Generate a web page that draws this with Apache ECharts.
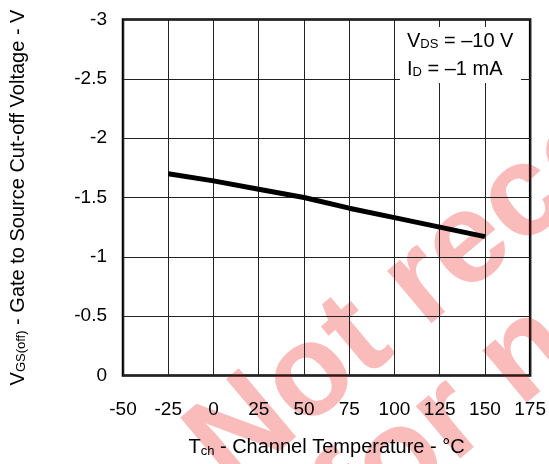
<!DOCTYPE html>
<html>
<head>
<meta charset="utf-8">
<script src="https://cdn.jsdelivr.net/npm/echarts@6/dist/echarts.min.js"></script>
<style>
  html, body { margin: 0; padding: 0; background: #fff; }
  #chart { width: 549px; height: 464px; }
</style>
</head>
<body>
<div id="chart"></div>
<script>
// Channel temperature (°C) and gate-source cut-off voltage (V)
const temperature = [-25, 0, 25, 50, 75, 100, 125, 150];
const vgsOff = [-1.70, -1.64, -1.57, -1.50, -1.41, -1.33, -1.25, -1.17];

// Axis ranges
const xTicks = { min: -50, max: 175, step: 25 };
const yTicks = { min: -3, max: 0, step: 0.5 };

const FONT = '"Liberation Sans", Arial, sans-serif';
const STAMP = 'rgba(240,30,30,0.3)';

const chart = echarts.init(document.getElementById('chart'), null, { renderer: 'canvas' });

const points = temperature.map((t, i) => [t, vgsOff[i]]);

const subRich = (size) => ({
  t: { fontFamily: FONT, fontSize: size, color: '#000' },
  s: { fontFamily: FONT, fontSize: 13, color: '#000', verticalAlign: 'bottom', padding: [6, 0, 0, 0] }
});

chart.setOption({
  animation: false,
  backgroundColor: '#fff',
  grid: {
    left: 123, top: 19.5, right: 17, bottom: 88.5,
    show: true, borderColor: '#000', borderWidth: 2.5, backgroundColor: 'transparent'
  },
  xAxis: {
    type: 'value',
    min: xTicks.min, max: xTicks.max, interval: xTicks.step,
    axisLine: { show: false },
    axisTick: { show: false },
    splitLine: { show: true, lineStyle: { color: '#222', width: 1 } },
    axisLabel: { color: '#000', fontFamily: FONT, fontSize: 19, margin: 25 },
    name: '{t|T}{s|ch}{t| - Channel Temperature - °C}',
    nameLocation: 'middle',
    nameGap: 62,
    nameTextStyle: { rich: subRich(20) }
  },
  yAxis: {
    type: 'value',
    inverse: true,
    min: yTicks.min, max: yTicks.max, interval: yTicks.step,
    axisLine: { show: false },
    axisTick: { show: false },
    splitLine: { show: true, lineStyle: { color: '#222', width: 1 } },
    axisLabel: { color: '#000', fontFamily: FONT, fontSize: 19, margin: 16 },
    name: '{t|V}{s|GS(off)}{t| - Gate to Source Cut-off Voltage - V}',
    nameLocation: 'middle',
    nameRotate: 90,
    nameGap: 95,
    nameTextStyle: { rich: subRich(20) }
  },
  series: [{
    type: 'line',
    data: points,
    symbol: 'none',
    lineStyle: { color: '#000', width: 5 },
    z: 3
  }],
  graphic: [
    // conditions box
    {
      type: 'rect', z: 10,
      shape: { x: 400, y: 27, width: 121, height: 56 },
      style: { fill: '#fff' }
    },
    {
      type: 'text', z: 11, left: 407, top: 31,
      style: {
        text: '{t|V}{s|DS}{t| = –10 V}',
        rich: {
          t: { fontFamily: FONT, fontSize: 20, fill: '#000' },
          s: { fontFamily: FONT, fontSize: 13, fill: '#000', verticalAlign: 'bottom', padding: [5, 0, 0, 0] }
        }
      }
    },
    {
      type: 'text', z: 11, left: 407, top: 59,
      style: {
        text: '{t|I}{s|D}{t| = –1 mA}',
        rich: {
          t: { fontFamily: FONT, fontSize: 20, fill: '#000' },
          s: { fontFamily: FONT, fontSize: 13, fill: '#000', verticalAlign: 'bottom', padding: [5, 0, 0, 0] }
        }
      }
    },
    // diagonal stamp
    {
      type: 'group', z: 100, x: 208, y: 464, rotation: 40 * Math.PI / 180,
      children: [
        {
          type: 'text', x: 0, y: 0,
          style: {
            text: 'Not recommended', fontFamily: FONT, fontWeight: 'bold', fontSize: 130,
            fill: STAMP, textVerticalAlign: 'middle'
          }
        },
        {
          type: 'text', x: 65, y: 122,
          style: {
            text: 'for new design', fontFamily: FONT, fontWeight: 'bold', fontSize: 130,
            fill: STAMP, textVerticalAlign: 'middle'
          }
        }
      ]
    }
  ]
});
</script>
</body>
</html>
